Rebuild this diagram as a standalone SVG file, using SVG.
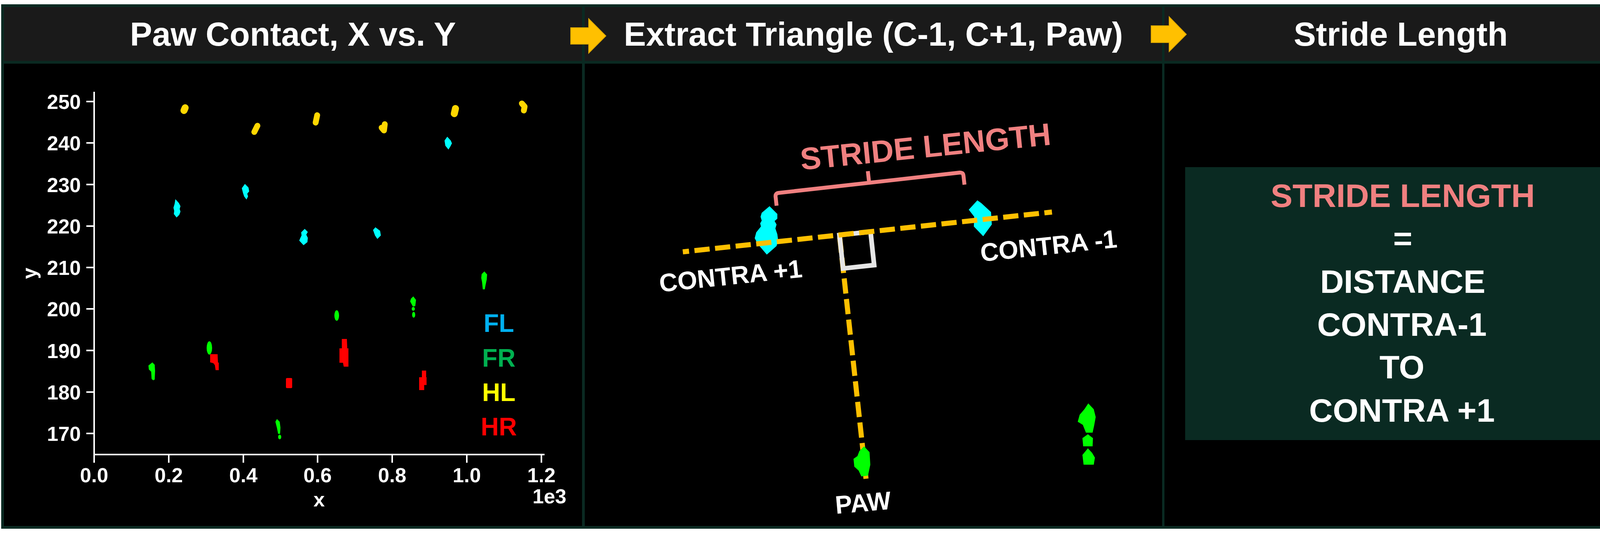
<svg xmlns="http://www.w3.org/2000/svg" width="4198" height="1388" viewBox="0 0 4198 1388">
<style>
.hdr{font-family:"Liberation Sans",Arial,sans-serif;font-weight:bold;font-size:85px;fill:#FFFFFF;text-anchor:middle}
.tick{font-family:"Liberation Sans",Arial,sans-serif;font-weight:bold;font-size:52px;fill:#FFFFFF}
.leg{font-family:"Liberation Sans",Arial,sans-serif;font-weight:bold;font-size:64px;text-anchor:middle}
.lbl{font-family:"Liberation Sans",Arial,sans-serif;font-weight:bold;font-size:65px;fill:#FFFFFF}
.res{font-family:"Liberation Sans",Arial,sans-serif;font-weight:bold;font-size:84px;fill:#FFFFFF;text-anchor:middle}
.pink{fill:#F08080}
.axis{stroke:#FFFFFF;stroke-width:4;fill:none}
.ylw{stroke:#FFD700;fill:none;stroke-linecap:round;stroke-linejoin:round}
.cy{fill:#00FFFF}
.gr{fill:#00FF00}
.rd{fill:#FF0000}
.dash{stroke:#FFC000;stroke-width:13;stroke-dasharray:39 14;fill:none}
.arrow{fill:#FFC000;stroke:#E0A800;stroke-width:2}
</style>
<rect x="0" y="0" width="4198" height="1388" fill="#FFFFFF"/>
<rect x="3" y="11" width="4195" height="1343" fill="#0A2A22"/>

<g id="header-paw-contact">
<rect x="10" y="18" width="1480" height="138" fill="#1A1A1A"/>
<text class="hdr" x="750" y="117">Paw Contact, X vs. Y</text>
</g>
<g id="header-extract-triangle">
<rect x="1497" y="18" width="1478" height="138" fill="#1A1A1A"/>
<text class="hdr" x="2236" y="117">Extract Triangle (C-1, C+1, Paw)</text>
</g>
<g id="header-stride-length">
<rect x="2981" y="18" width="1210" height="138" fill="#1A1A1A"/>
<text class="hdr" x="3586" y="117">Stride Length</text>
</g>

<g id="panel-scatter">
<rect x="10" y="163" width="1480" height="1184" fill="#000000"/>
<line class="axis" x1="241" y1="235" x2="241" y2="1166"/>
<line class="axis" x1="239" y1="1164" x2="1394" y2="1164"/>
<g class="axis">
<line x1="221" y1="260" x2="241" y2="260"/>
<line x1="221" y1="366" x2="241" y2="366"/>
<line x1="221" y1="472.5" x2="241" y2="472.5"/>
<line x1="221" y1="579" x2="241" y2="579"/>
<line x1="221" y1="685" x2="241" y2="685"/>
<line x1="221" y1="791" x2="241" y2="791"/>
<line x1="221" y1="897.5" x2="241" y2="897.5"/>
<line x1="221" y1="1004" x2="241" y2="1004"/>
<line x1="221" y1="1110" x2="241" y2="1110"/>
<line x1="241" y1="1164" x2="241" y2="1185"/>
<line x1="432" y1="1164" x2="432" y2="1185"/>
<line x1="623" y1="1164" x2="623" y2="1185"/>
<line x1="813" y1="1164" x2="813" y2="1185"/>
<line x1="1004" y1="1164" x2="1004" y2="1185"/>
<line x1="1195" y1="1164" x2="1195" y2="1185"/>
<line x1="1386" y1="1164" x2="1386" y2="1185"/>
</g>
<g class="tick" text-anchor="end">
<text x="207" y="279">250</text>
<text x="207" y="385">240</text>
<text x="207" y="491.5">230</text>
<text x="207" y="598">220</text>
<text x="207" y="704">210</text>
<text x="207" y="810">200</text>
<text x="207" y="916.5">190</text>
<text x="207" y="1023">180</text>
<text x="207" y="1129">170</text>
</g>
<g class="tick" text-anchor="middle">
<text x="241" y="1235">0.0</text>
<text x="432" y="1235">0.2</text>
<text x="623" y="1235">0.4</text>
<text x="813" y="1235">0.6</text>
<text x="1004" y="1235">0.8</text>
<text x="1195" y="1235">1.0</text>
<text x="1386" y="1235">1.2</text>
<text x="817" y="1297">x</text>
</g>
<text class="tick" x="1450" y="1289" text-anchor="end" font-size="46">1e3</text>
<text class="tick" text-anchor="middle" transform="translate(93,700) rotate(-90)">y</text>
<g class="ylw">
<path d="M474 276 L471 283" stroke-width="18"/>
<path d="M659 322 L651 338" stroke-width="15"/>
<path d="M812 295 L808 314" stroke-width="15"/>
<path d="M985 318 L983 334 L977 327" stroke-width="15"/>
<path d="M1166 278 L1163 291" stroke-width="18"/>
<path d="M1336 265 L1343 273 L1341 283" stroke-width="15"/>
</g>
<g class="cy">
<polygon points="449,510 458,520 462,528 460,535 462,542 459,550 452,557 445,548 446,540 444,532 447,522"/>
<polygon points="627,471 636,480 638,490 633,496 635,503 631,511 625,503 622,494 619,482"/>
<polygon points="780,586 788,594 784,601 788,609 787,620 777,628 766,616 769,609 772,603 771,595"/>
<polygon points="961,582 973,591 975,603 966,612 960,603 955,589"/>
<polygon points="1145,350 1154,360 1157,367 1153,375 1148,383 1140,373 1138,360"/>
</g>
<g class="gr">
<polygon points="390,928 396,934 397,950 396,972 392,974 388,970 387,952 381,946 380,936"/>
<ellipse cx="536" cy="891" rx="7" ry="17"/>
<polygon points="709,1073 716,1080 718,1095 717,1111 712,1111 709,1096 705,1080"/>
<ellipse cx="716" cy="1119" rx="4" ry="6"/>
<ellipse cx="862" cy="808" rx="6" ry="13.5"/>
<polygon points="1058,759 1065,768 1063,784 1057,785 1050,772 1052,765"/>
<ellipse cx="1058" cy="791" rx="4" ry="5"/>
<ellipse cx="1059" cy="806" rx="4" ry="7.5"/>
<polygon points="1240,695 1247,703 1246,716 1243,730 1241,741 1236,741 1234,722 1232,712 1233,702"/>
</g>
<g class="rd">
<polygon points="538,907 557,907 558,928 560,929 560,948 552,948 550,935 546,930 538,928"/>
<rect x="732" y="968" width="16" height="26" rx="3"/>
<polygon points="875,868 888,868 889,892 892,892 892,939 880,939 878,929 869,929 869,892 875,892"/>
<polygon points="1080,949 1091,949 1091,966 1092,966 1092,986 1086,986 1086,999 1073,999 1073,966 1080,966"/>
</g>
<text class="leg" x="1277" y="850" fill="#00B0F0">FL</text>
<text class="leg" x="1277" y="939" fill="#00B050">FR</text>
<text class="leg" x="1277" y="1027" fill="#FFFF00">HL</text>
<text class="leg" x="1277" y="1115" fill="#FF0000">HR</text>
</g>

<g id="panel-triangle">
<rect x="1497" y="163" width="1478" height="1184" fill="#000000"/>
<text class="pink" x="2372" y="403" text-anchor="middle" transform="rotate(-5.8 2372 403)" font-family="Liberation Sans, Arial, sans-serif" font-weight="bold" font-size="80">STRIDE LENGTH</text>
<path d="M-242 32 L-242 9 Q-242 0 -233 0 L233 0 Q242 0 242 9 L242 32 M0 0 L0 -30" transform="translate(2225,468) rotate(-6.4)" fill="none" stroke="#F08080" stroke-width="10"/>
<line class="dash" x1="2217" y1="1226" x2="2149" y2="602"/>
<g class="gr">
<polygon points="2212,1143 2226,1158 2228,1190 2222,1218 2205,1220 2198,1205 2187,1195 2185,1175 2195,1168 2200,1155"/>
<polygon points="2786,1033 2800,1048 2805,1068 2801,1090 2797,1108 2780,1108 2772,1088 2759,1080 2764,1062 2776,1048"/>
<polygon points="2785,1112 2798,1122 2797,1143 2773,1143 2771,1122"/>
<polygon points="2785,1148 2796,1160 2803,1172 2800,1190 2774,1190 2771,1165"/>
</g>
<rect x="0" y="0" width="80" height="86" transform="translate(2149,602) rotate(-6.2)" fill="none" stroke="#E6E6E6" stroke-width="12"/>
<g class="cy">
<polygon points="1970,528 1990,548 1990,560 1983,566 1988,575 1985,585 1990,600 1992,615 1988,630 1963,652 1940,625 1932,610 1936,595 1948,580 1946,572 1950,565 1947,555 1950,545"/>
<polygon points="2502,513 2512,520 2537,543 2539,575 2517,605 2493,580 2494,555 2480,537"/>
</g>
<line class="dash" x1="1748" y1="645" x2="2693" y2="543" stroke-dashoffset="23"/>
<text class="lbl" x="1690" y="748" transform="rotate(-6 1690 748)">CONTRA +1</text>
<text class="lbl" x="2512" y="670" transform="rotate(-6 2512 670)">CONTRA -1</text>
<text class="lbl" x="2140" y="1316" font-size="68" transform="rotate(-5 2140 1316)">PAW</text>
</g>

<g id="panel-result">
<rect x="2981" y="163" width="1210" height="1184" fill="#000000"/>
<rect x="3034" y="428" width="1117" height="699" fill="#0A2A22"/>
<text class="res pink" x="3591" y="530">STRIDE LENGTH</text>
<text class="res" x="3591" y="640">=</text>
<text class="res" x="3591" y="750">DISTANCE</text>
<text class="res" x="3589" y="860">CONTRA-1</text>
<text class="res" x="3589" y="969">TO</text>
<text class="res" x="3589" y="1080">CONTRA +1</text>
</g>

<g id="connectors">
<polygon class="arrow" points="1461,71 1507,71 1507,48 1551,92 1507,136 1507,113 1461,113"/>
<polygon class="arrow" points="2947,66 2993,66 2993,43 3037,88 2993,132 2993,109 2947,109"/>
</g>
</svg>
